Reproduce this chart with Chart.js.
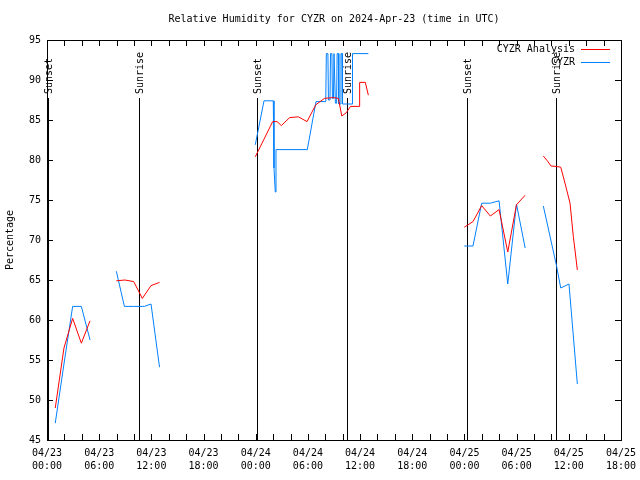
<!DOCTYPE html>
<html>
<head>
<meta charset="utf-8">
<title>Relative Humidity CYZR</title>
<script src="https://cdn.jsdelivr.net/npm/chart.js@4.4.1/dist/chart.umd.min.js"></script>
<style>
    html, body { margin: 0; padding: 0; background: #fff; }
</style>
</head>
<body>
<canvas id="rh_chart" width="640" height="480"></canvas>
<script>
const FONT = "'DejaVu Sans Mono', 'Liberation Mono', monospace";

// hours after 2024-04-23 00:00 UTC, null marks a gap in the record
const analysis_hours = [
    0.95, 1.95, 2.95, 3.95, 4.95, 6.5,
    7.97, 8.97, 9.97, 10.96, 11.96, 12.94, 18,
    23.95, 24.95, 25.95, 26.45, 26.95, 27.9, 28.9, 29.9, 30.9, 31.9, 32.9, 33.5, 33.9, 34.4, 34.9, 35.9, 35.95, 36.6, 36.95, 42,
    47.98, 48.98, 49.98, 50.98, 51.98, 52.98, 53.98, 54.98, 56,
    57.07, 57.53, 57.95, 58.53, 59.07, 59.37, 59.76, 60.14, 60.33, 60.52, 60.71, 60.98
];
const analysis_rh = [
    49.0, 56.5, 60.2, 57.1, 59.9, null,
    64.9, 65.0, 64.8, 62.7, 64.3, 64.7, null,
    80.4, 82.6, 84.8, 84.8, 84.3, 85.3, 85.4, 84.8, 86.9, 87.7, 87.8, 87.7, 85.5, 85.9, 86.7, 86.7, 89.7, 89.7, 88.1, null,
    71.6, 72.3, 74.3, 73.0, 73.8, 68.5, 74.4, 75.6, null,
    80.5, 79.9, 79.25, 79.2, 79.1, 77.9, 76.25, 74.6, 72.5, 70.4, 68.75, 66.25
];

const obs_hours = [
    0.95, 1.95, 2.95, 3.95, 4.95, 6.5,
    7.97, 8.9, 9.97, 10.96, 11.2, 11.96, 12.94, 18,
    23.95, 24.95, 26.02, 26.1, 26.25, 26.33, 29.93, 30.93, 32.05,
    32.12, 32.3, 32.36, 32.54, 32.6, 32.76, 32.82, 32.94, 33.0, 33.1, 33.16, 33.3, 33.36, 33.5, 33.56, 33.75, 33.8, 33.92, 33.98,
    35.07, 35.13, 36.95, 42,
    47.98, 48.98, 49.98, 50.98, 51.98, 52.98, 53.98, 54.98, 56,
    57.07, 58.6, 59.07, 60.02, 60.98
];
const obs_rh = [
    47.1, 54.5, 61.7, 61.7, 57.5, null,
    66.1, 61.7, 61.7, 61.7, 61.7, 62.0, 54.1, null,
    81.9, 87.4, 87.4, 79.0, 76.0, 81.3, 81.3, 87.3, 87.3,
    93.3, 93.3, 87.5, 87.5, 93.3, 93.3, 87.7, 87.7, 93.3, 93.3, 87.1, 87.1, 93.3, 93.3, 87.0, 87.0, 93.3, 93.3, 87.0,
    87.0, 93.3, 93.3, null,
    69.25, 69.25, 74.6, 74.6, 74.9, 64.5, 74.5, 69.0, null,
    74.25, 66.7, 64.0, 64.5, 52.0
];

const sun_hours = [0.1, 10.58, 24.15, 34.5, 48.3, 58.53];
const sun_labels = ['Sunset', 'Sunrise', 'Sunset', 'Sunrise', 'Sunset', 'Sunrise'];

const day_labels = ['04/23', '04/24', '04/25'];

function to_points(hours, values) {
    return hours.map((h, i) => ({ x: h, y: values[i] }));
}

// frame with inward ticks on all four sides plus the sunrise/sunset markers
const frame_plugin = {
    id: 'frame',
    beforeDatasetsDraw(chart) {
        const { ctx, chartArea: a, scales } = chart;
        const tick_len = 6;
        ctx.save();
        ctx.strokeStyle = '#000';
        ctx.lineWidth = 1;
        ctx.beginPath();
        scales.x.ticks.forEach(t => {
            const px = Math.round(scales.x.getPixelForValue(t.value)) + 0.5;
            ctx.moveTo(px, a.bottom); ctx.lineTo(px, a.bottom - tick_len);
            ctx.moveTo(px, a.top); ctx.lineTo(px, a.top + tick_len);
        });
        scales.y.ticks.forEach(t => {
            const py = Math.round(scales.y.getPixelForValue(t.value)) + 0.5;
            ctx.moveTo(a.left, py); ctx.lineTo(a.left + tick_len, py);
            ctx.moveTo(a.right, py); ctx.lineTo(a.right - tick_len, py);
        });
        ctx.stroke();
        ctx.strokeRect(a.left + 0.5, a.top + 0.5, a.right - a.left, a.bottom - a.top);

        ctx.font = '10px ' + FONT;
        ctx.fillStyle = '#000';
        sun_hours.forEach((h, i) => {
            const px = Math.round(scales.x.getPixelForValue(h)) + 0.5;
            ctx.beginPath();
            ctx.moveTo(px, a.top + 58);
            ctx.lineTo(px, a.bottom);
            ctx.stroke();
            ctx.save();
            ctx.translate(px + 1, a.top + 54);
            ctx.rotate(-Math.PI / 2);
            ctx.textAlign = 'left';
            ctx.textBaseline = 'middle';
            ctx.fillText(sun_labels[i], 0, 0);
            ctx.restore();
        });
        ctx.restore();
    }
};

// gnuplot style key: text to the left of the line sample
const key_plugin = {
    id: 'key',
    afterDatasetsDraw(chart) {
        const { ctx, chartArea: a } = chart;
        ctx.save();
        ctx.font = '10px ' + FONT;
        ctx.textAlign = 'right';
        ctx.textBaseline = 'middle';
        chart.data.datasets.forEach((ds, i) => {
            const y = a.top + 9 + i * 13;
            ctx.fillStyle = '#000';
            ctx.fillText(ds.label, a.right - 46, y);
            ctx.strokeStyle = ds.borderColor;
            ctx.lineWidth = 1;
            ctx.beginPath();
            ctx.moveTo(a.right - 40, Math.round(y) + 0.5);
            ctx.lineTo(a.right - 11, Math.round(y) + 0.5);
            ctx.stroke();
        });
        ctx.restore();
    }
};

const ctx = document.getElementById('rh_chart').getContext('2d');
new Chart(ctx, {
    type: 'line',
    data: {
        datasets: [{
            label: 'CYZR Analysis',
            data: to_points(analysis_hours, analysis_rh),
            borderColor: '#ff0000',
            borderWidth: 1,
            pointRadius: 0,
            tension: 0,
            spanGaps: false
        }, {
            label: 'CYZR',
            data: to_points(obs_hours, obs_rh),
            borderColor: '#0080ff',
            borderWidth: 1,
            pointRadius: 0,
            tension: 0,
            spanGaps: false
        }]
    },
    options: {
        responsive: false,
        animation: false,
        devicePixelRatio: 1,
        layout: { padding: { left: 0, right: 19, top: 0, bottom: 0 } },
        plugins: {
            legend: { display: false },
            tooltip: { enabled: false },
            title: {
                display: true,
                fullSize: false,
                text: 'Relative Humidity for CYZR on 2024-Apr-23 (time in UTC)',
                color: '#000',
                font: { family: FONT, size: 10, weight: 'normal', lineHeight: 1.2 },
                padding: { top: 13, bottom: 15 }
            }
        },
        scales: {
            x: {
                type: 'linear',
                min: 0,
                max: 66,
                grid: { display: false, drawTicks: false },
                border: { display: false },
                afterFit: scale => {
                    scale.height = 40;
                    scale.paddingLeft = 0;
                    scale.paddingRight = 0;
                },
                ticks: {
                    stepSize: 2,
                    autoSkip: false,
                    maxRotation: 0,
                    padding: 7,
                    color: '#000',
                    font: { family: FONT, size: 10, lineHeight: 1.3 },
                    callback: function (value) {
                        if (value % 6 !== 0) return '';
                        const day = day_labels[Math.floor(value / 24)];
                        const hh = String(value % 24).padStart(2, '0') + ':00';
                        return [day, hh];
                    }
                }
            },
            y: {
                min: 45,
                max: 95,
                grid: { display: false, drawTicks: false },
                border: { display: false },
                afterFit: scale => { scale.width = 47; },
                title: {
                    display: true,
                    text: 'Percentage',
                    color: '#000',
                    font: { family: FONT, size: 10 },
                    padding: { top: 4, bottom: 0 }
                },
                ticks: {
                    stepSize: 5,
                    padding: 6,
                    color: '#000',
                    font: { family: FONT, size: 10 }
                }
            }
        }
    },
    plugins: [frame_plugin, key_plugin]
});
</script>
</body>
</html>
